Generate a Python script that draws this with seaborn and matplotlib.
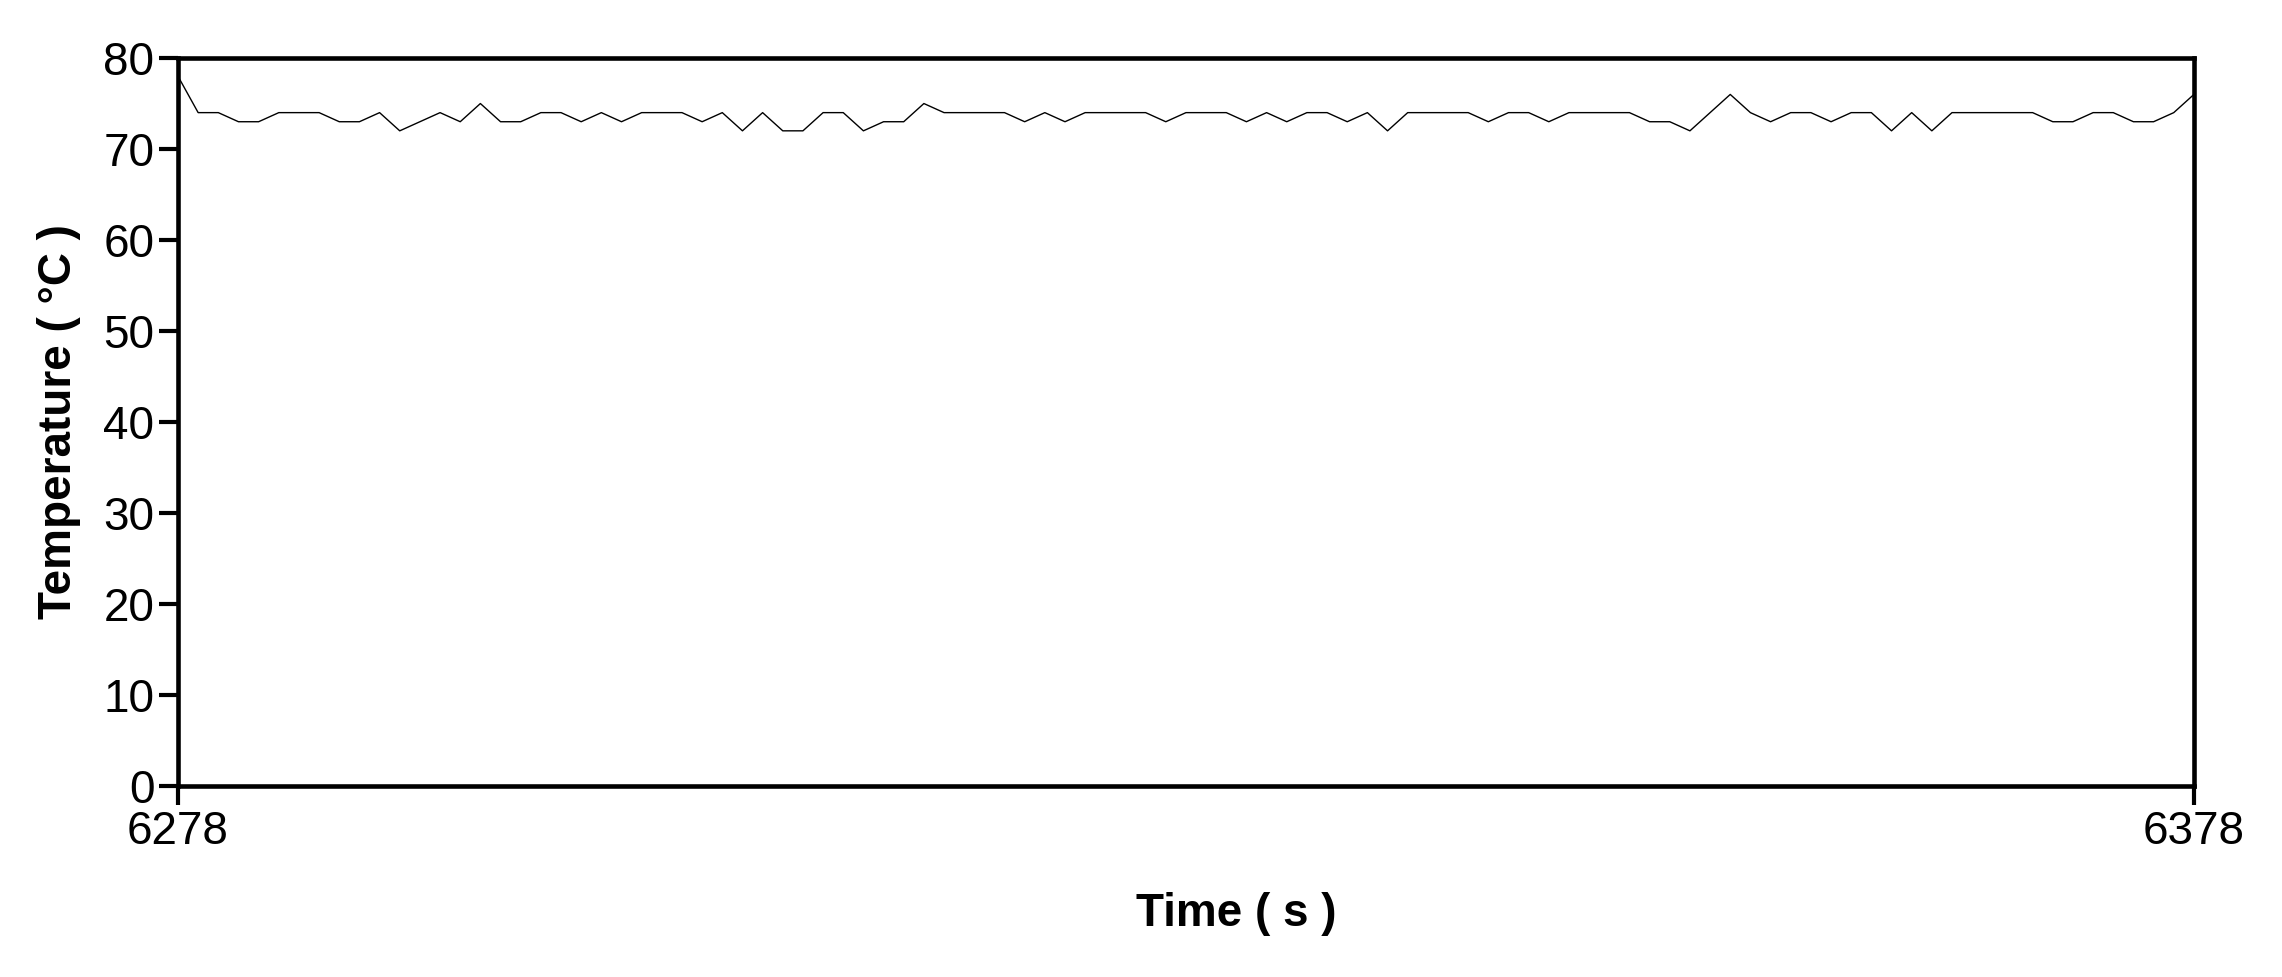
import numpy as np
import pandas as pd
import seaborn as sns
from matplotlib import pyplot as plt

# one reading per second, 6278 s to 6378 s
time_s = np.arange(6278, 6379)
temperature_c = [
    78, 74, 74, 73, 73, 74, 74, 74, 73, 73,
    74, 72, 73, 74, 73, 75, 73, 73, 74, 74,
    73, 74, 73, 74, 74, 74, 73, 74, 72, 74,
    72, 72, 74, 74, 72, 73, 73, 75, 74, 74,
    74, 74, 73, 74, 73, 74, 74, 74, 74, 73,
    74, 74, 74, 73, 74, 73, 74, 74, 73, 74,
    72, 74, 74, 74, 74, 73, 74, 74, 73, 74,
    74, 74, 74, 73, 73, 72, 74, 76, 74, 73,
    74, 74, 73, 74, 74, 72, 74, 72, 74, 74,
    74, 74, 74, 73, 73, 74, 74, 73, 73, 74,
    76,
]
y_ticks = [0, 10, 20, 30, 40, 50, 60, 70, 80]
x_ticks = [6278, 6378]

df = pd.DataFrame({'Time': time_s, 'Temperature': temperature_c})

sns.set_style('white')
plt.rcParams['font.family'] = ['Liberation Sans', 'DejaVu Sans']

fig = plt.figure(figsize=(22.82, 9.77), dpi=100)
ax = fig.add_axes([0.078, 0.1955, 0.8834, 0.7451])

sns.lineplot(data=df, x='Time', y='Temperature', color='black', linewidth=1.0, ax=ax)

ax.set_xlim(6278, 6378)
ax.set_ylim(0, 80)
ax.set_xticks(x_ticks)
ax.set_yticks(y_ticks)

for side in ['left', 'right', 'top', 'bottom']:
    ax.spines[side].set_visible(True)
    ax.spines[side].set_color('black')
    ax.spines[side].set_linewidth(3.3)

ax.tick_params(axis='both', direction='out', length=14, width=3.0, color='black',
               labelsize=33, labelcolor='black', pad=3)
ax.tick_params(axis='x', bottom=True)
ax.tick_params(axis='y', left=True)

ax.set_xlabel('Time ( s )', fontsize=33, fontweight='bold', va='center', color='black')
ax.set_ylabel('Temperature ( °C )', fontsize=33, fontweight='bold', va='center', color='black')
ax.xaxis.set_label_coords(0.525, -0.176)
ax.yaxis.set_label_coords(-0.059, 0.5)

fig.savefig('out.png', dpi=100, facecolor='white')
